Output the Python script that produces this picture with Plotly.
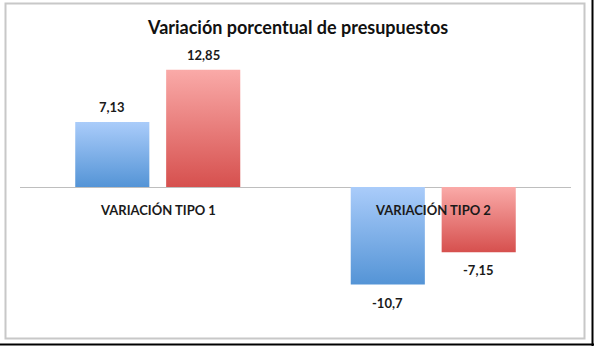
import plotly.graph_objects as go

categories = ["VARIACIÓN TIPO 1", "VARIACIÓN TIPO 2"]
series_names = ["Serie 1", "Serie 2"]
values_s1 = [7.13, -10.7]
values_s2 = [12.85, -7.15]
labels_s1 = ["7,13", "-10,7"]
labels_s2 = ["12,85", "-7,15"]

W, H = 594, 346
FONT = "Lato"

fig = go.Figure()

series = [
    (series_names[0], values_s1, labels_s1, "rgb(84,148,214)", "rgb(170,204,250)", -0.165),
    (series_names[1], values_s2, labels_s2, "rgb(214,80,78)", "rgb(250,170,168)", 0.165),
]
bar_w = 0.269

annotations = []
for name, vals, labs, dark, light, off in series:
    for i, (v, lab) in enumerate(zip(vals, labs)):
        x0 = i + off - bar_w / 2
        x1 = i + off + bar_w / 2
        fig.add_trace(go.Scatter(
            x=[x0, x1, x1, x0, x0], y=[0, 0, v, v, 0],
            mode="lines", line=dict(width=0), fill="toself",
            fillgradient=dict(type="vertical",
                              colorscale=[[0, dark], [1, light]]),
            name=name, showlegend=False, hoverinfo="skip"))
        annotations.append(dict(
            x=i + off, y=v, xref="x", yref="y", text=lab, showarrow=False,
            yanchor="bottom" if v >= 0 else "top",
            yshift=5 if v >= 0 else -8,
            font=dict(family=FONT, size=13, color="#1a1a1a", weight="bold")))

for i, c in enumerate(categories):
    annotations.append(dict(
        x=i, y=0, xref="x", yref="y", text=c, showarrow=False,
        yanchor="middle", yshift=-23,
        font=dict(family=FONT, size=13, color="#1a1a1a", weight="bold")))

annotations.append(dict(
    x=297 / W, y=1 - 27 / H, xref="paper", yref="paper",
    text="Variación porcentual de presupuestos", showarrow=False,
    xanchor="center", yanchor="middle",
    font=dict(family=FONT, size=18, color="#111111", weight="bold")))

shapes = [
    dict(type="rect", xref="paper", yref="paper",
         x0=5.5 / W, x1=584.5 / W, y0=1 - 338.5 / H, y1=1 - 3.5 / H,
         line=dict(color="rgb(200,200,200)", width=2), fillcolor="rgba(0,0,0,0)", layer="below"),
    dict(type="line", xref="paper", yref="paper",
         x0=0, x1=1, y0=1 - 344.5 / H, y1=1 - 344.5 / H,
         line=dict(color="black", width=2)),
    dict(type="line", xref="paper", yref="paper",
         x0=592.5 / W, x1=592.5 / W, y0=0, y1=1,
         line=dict(color="black", width=2)),
]

fig.update_layout(
    width=W, height=H,
    margin=dict(l=0, r=0, t=0, b=0),
    paper_bgcolor="white", plot_bgcolor="white",
    showlegend=False,
    xaxis=dict(domain=[20 / W, 571 / W], range=[-0.5, 1.5],
               showgrid=False, zeroline=False, showticklabels=False, showline=False),
    yaxis=dict(domain=[1 - 330 / H, 1 - 40 / H], range=[-15.68, 16.12],
               showgrid=False, zeroline=True, zerolinecolor="rgb(190,190,190)",
               zerolinewidth=1, showticklabels=False, showline=False),
    annotations=annotations,
    shapes=shapes,
)

fig.write_html("out.html")
